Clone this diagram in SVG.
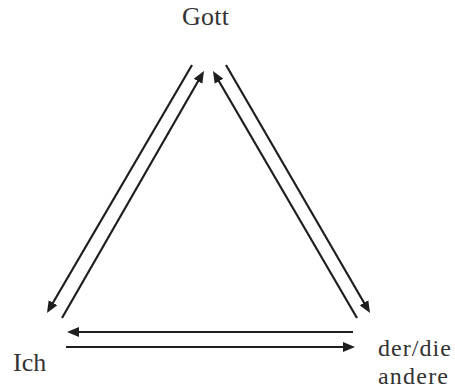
<svg xmlns="http://www.w3.org/2000/svg" width="455" height="391" viewBox="0 0 455 391">
<defs>
<style>
.lbl{font-family:"Liberation Serif","Times New Roman",serif;font-size:26px;fill:#333}
.sm{font-size:24px}
.c{stroke:#1e1e1e;stroke-width:2.2;fill:none;marker-end:url(#ah)}
</style>
<marker id="ah" markerUnits="userSpaceOnUse" markerWidth="13" markerHeight="11" refX="5" refY="5" orient="auto" viewBox="0 0 13 11">
<path d="M0,0 L12,5 L0,10 z" fill="#1e1e1e"/>
</marker>
</defs>
<rect width="455" height="391" fill="#fff"/>
<g id="connectors">
<line class="c" x1="192" y1="65" x2="50.5" y2="307"/>
<line class="c" x1="62" y1="318" x2="200.5" y2="77"/>
<line class="c" x1="357" y1="318" x2="216.5" y2="77"/>
<line class="c" x1="226" y1="65" x2="366.5" y2="307"/>
<line class="c" x1="353" y1="332" x2="74" y2="332"/>
<line class="c" x1="66" y1="347" x2="348" y2="347"/>
</g>
<g id="gott"><text class="lbl" x="182" y="25" textLength="47">Gott</text></g>
<g id="ich"><text class="lbl" x="13" y="371">Ich</text></g>
<g id="andere"><text class="lbl sm" x="378" y="356" textLength="73">der/die</text><text class="lbl sm" x="378" y="383.5" textLength="70">andere</text></g>
</svg>
